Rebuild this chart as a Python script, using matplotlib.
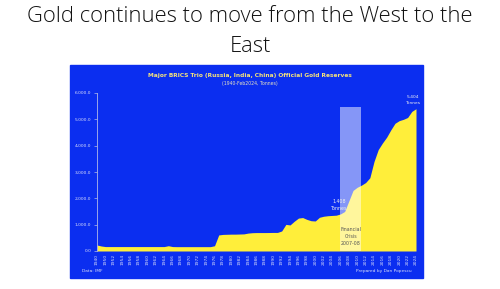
import numpy as np
from matplotlib import pyplot as plt
from matplotlib.patches import Rectangle

# categories: 1940, 1945, then every year 1950-2024
years = [1940, 1945] + list(range(1950, 2025))
tonnes = [228, 190] + [168]*15 + [200, 168] + [165]*9 + \
    [200, 610, 630, 635, 640, 640, 645, 650, 680, 695, 700, 700, 700, 702, 705, 705,
     760, 1010, 990, 1130, 1250, 1270, 1200, 1150, 1140, 1280, 1320, 1340, 1350,
     1360, 1408, 1500, 1900, 2300, 2420, 2500, 2600, 2780, 3400, 3850, 4100, 4320,
     4600, 4850, 4950, 5000, 5070, 5300, 5404]
crisis = (2006, 2011)
crisis_top = 5450
yticks = [0, 1000, 2000, 3000, 4000, 5000, 6000]

blue = '#0B2EF0'
yellow = '#FFEE3A'

fig = plt.figure(figsize=(5, 2.89), dpi=100)
fig.patch.set_facecolor('white')
fig.patches.append(Rectangle((70/500, 1-278/289), 353/500, 213/289,
                             transform=fig.transFigure, color=blue, zorder=-5))

fig.text(0.5, 1-16/289, 'Gold continues to move from the West to the',
         ha='center', va='center', fontsize=15.8, family='Open Sans',
         fontweight='light', color='#111111')
fig.text(0.5, 1-46/289, 'East', ha='center', va='center', fontsize=15.8,
         family='Open Sans', fontweight='light', color='#111111')
fig.text(0.5, 1-75/289, 'Major BRICS Trio (Russia, India, China) Official Gold Reserves',
         ha='center', va='center', fontsize=4.2, fontweight='bold', color='#F5E37A')
fig.text(0.5, 1-83.5/289, '(1940-Feb2024, Tonnes)', ha='center', va='center',
         fontsize=3.3, color='#E8E2C0')
fig.text(82/500, 1-271/289, 'Data: IMF', ha='left', va='center', fontsize=3.2, color='#D8DCF8')
fig.text(412/500, 1-271/289, 'Prepared by Dan Popescu', ha='right', va='center',
         fontsize=3.2, color='#D8DCF8')

ax = fig.add_axes([97/500, 38/289, 319/500, 158/289], zorder=2)
ax.set_facecolor(blue)
x = np.arange(len(years))
ax.fill_between(x, tonnes, color=yellow, lw=0, zorder=2)
i0 = years.index(crisis[0])
i1 = years.index(crisis[1])
ax.bar(i0, crisis_top, width=i1-i0, align='edge', color='white', alpha=0.5, lw=0, zorder=3)

ax.set_xlim(0, len(years)-1)
ax.set_ylim(0, 6000)
ax.set_yticks(yticks)
ax.set_yticklabels([f'{v:,.1f}' for v in yticks], fontsize=3.2, color='#D8DCF8')
ax.set_xticks(x[::2])
ax.set_xticklabels([str(y) for y in years[::2]], rotation=90, fontsize=3.2, color='#D8DCF8')
ax.tick_params(axis='y', length=2, width=0.5, color='#B0B8E8', pad=2)
ax.tick_params(axis='x', length=0, pad=2)
for s in ['top', 'right', 'bottom']:
    ax.spines[s].set_visible(False)
ax.spines['left'].set_color('#B0B8E8')
ax.spines['left'].set_linewidth(0.6)

i_end = len(years)-1
ax.text(i_end-0.8, tonnes[-1]+150, '5,404\nTonnes', ha='center', va='bottom',
        fontsize=3.2, color='#F0F0F0', linespacing=1.6)
i06 = years.index(2006)
ax.text(i06-0.3, tonnes[i06]+100, '1,408\nTonnes', ha='center', va='bottom',
        fontsize=3.4, color='#F0F0F0', linespacing=1.6)
ax.text((i0+i1)/2, 550, 'Financial\nCrisis\n2007-08', ha='center', va='center',
        fontsize=3.4, color='#555555', linespacing=1.6, zorder=4)

plt.savefig('out.png', dpi=100)
